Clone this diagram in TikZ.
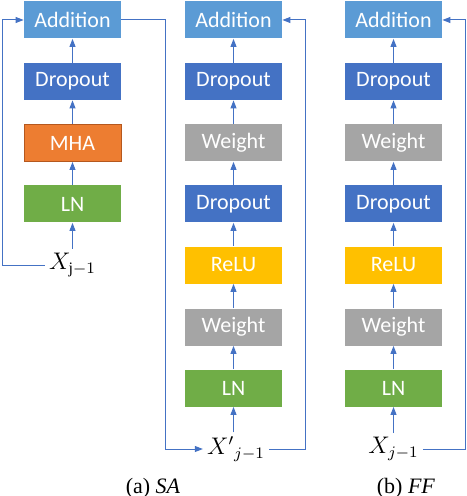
\documentclass[tikz,border=0pt]{standalone}
\usepackage{amsmath, amssymb}
\usepackage{fontspec}
\usepackage{tikz}
\usetikzlibrary{arrows.meta}
\setmainfont{Liberation Serif}
\newfontfamily\boxfont{Carlito}
\definecolor{addBlue}{HTML}{5B9BD5}
\definecolor{dropBlue}{HTML}{4472C4}
\definecolor{mhaOrange}{HTML}{ED7D31}
\definecolor{mhaEdge}{HTML}{B5581E}
\definecolor{lnGreen}{HTML}{70AD47}
\definecolor{weightGray}{HTML}{A5A5A5}
\definecolor{reluYellow}{HTML}{FFC000}
\definecolor{linkBlue}{HTML}{4472C4}

\begin{document}
\begin{tikzpicture}[x=0.5pt,y=-0.5pt,
    box/.style={minimum width=48.5pt, minimum height=18.5pt, inner sep=0pt, text=white,
        font=\boxfont\fontsize{11}{13}\selectfont},
    arr/.style={linkBlue, line width=0.5pt, -{Triangle[length=4pt,width=3pt]}},
    xin/.style={inner sep=2pt, font=\large},
    caption/.style={font=\fontsize{11}{13}\selectfont}]
    \useasboundingbox (0,0) rectangle (466,496);
    % (a) SA
    \node[box, fill=addBlue] (addA) at (72.5,20) {Addition};
    \node[box, fill=dropBlue] (dropA) at (72.5,81.5) {Dropout};
    \node[box, fill=mhaOrange, draw=mhaEdge, line width=0.5pt] (mhaA) at (72.5,143) {MHA};
    \node[box, fill=lnGreen] (lnA) at (72.5,204) {LN};
    \node[xin] (xA) at (72.5,265) {\(X_{\mathrm{j}-1}\)};
    \draw[arr] (dropA) -- (addA);
    \draw[arr] (mhaA) -- (dropA);
    \draw[arr] (lnA) -- (mhaA);
    \draw[arr] (xA) -- (lnA);
    \draw[arr] (xA.west) -| (2,20) -- (addA.west);
    % (a) SA, second block
    \node[box, fill=addBlue] (addB) at (233.5,20) {Addition};
    \node[box, fill=dropBlue] (dropB) at (233.5,81.5) {Dropout};
    \node[box, fill=weightGray] (wOutB) at (233.5,143) {Weight};
    \node[box, fill=dropBlue] (dropInB) at (233.5,204) {Dropout};
    \node[box, fill=reluYellow] (reluB) at (233.5,265) {ReLU};
    \node[box, fill=weightGray] (wInB) at (233.5,327) {Weight};
    \node[box, fill=lnGreen] (lnB) at (233.5,388) {LN};
    \node[xin] (xB) at (236,449) {\({X'}_{j-1}\)};
    \draw[arr] (dropB) -- (addB);
    \draw[arr] (wOutB) -- (dropB);
    \draw[arr] (dropInB) -- (wOutB);
    \draw[arr] (reluB) -- (dropInB);
    \draw[arr] (wInB) -- (reluB);
    \draw[arr] (lnB) -- (wInB);
    \draw[arr] (xB.north -| lnB.south) -- (lnB);
    \draw[arr] (addA.east) -- (165,20) |- (xB.west);
    \draw[arr] (xB.east) -| (305,20) -- (addB.east);
    % (b) FF
    \node[box, fill=addBlue] (addC) at (393.5,20) {Addition};
    \node[box, fill=dropBlue] (dropC) at (393.5,81.5) {Dropout};
    \node[box, fill=weightGray] (wOutC) at (393.5,143) {Weight};
    \node[box, fill=dropBlue] (dropInC) at (393.5,204) {Dropout};
    \node[box, fill=reluYellow] (reluC) at (393.5,265) {ReLU};
    \node[box, fill=weightGray] (wInC) at (393.5,327) {Weight};
    \node[box, fill=lnGreen] (lnC) at (393.5,388) {LN};
    \node[xin] (xC) at (393.5,449) {\(X_{j-1}\)};
    \draw[arr] (dropC) -- (addC);
    \draw[arr] (wOutC) -- (dropC);
    \draw[arr] (dropInC) -- (wOutC);
    \draw[arr] (reluC) -- (dropInC);
    \draw[arr] (wInC) -- (reluC);
    \draw[arr] (lnC) -- (wInC);
    \draw[arr] (xC) -- (lnC);
    \draw[arr] (xC.east) -| (465,20) -- (addC.east);
    \node[caption] (capA) at (153,488) {(a) \textit{SA}};
    \node[caption] (capB) at (406,488) {(b) \textit{FF}};
\end{tikzpicture}
\end{document}
